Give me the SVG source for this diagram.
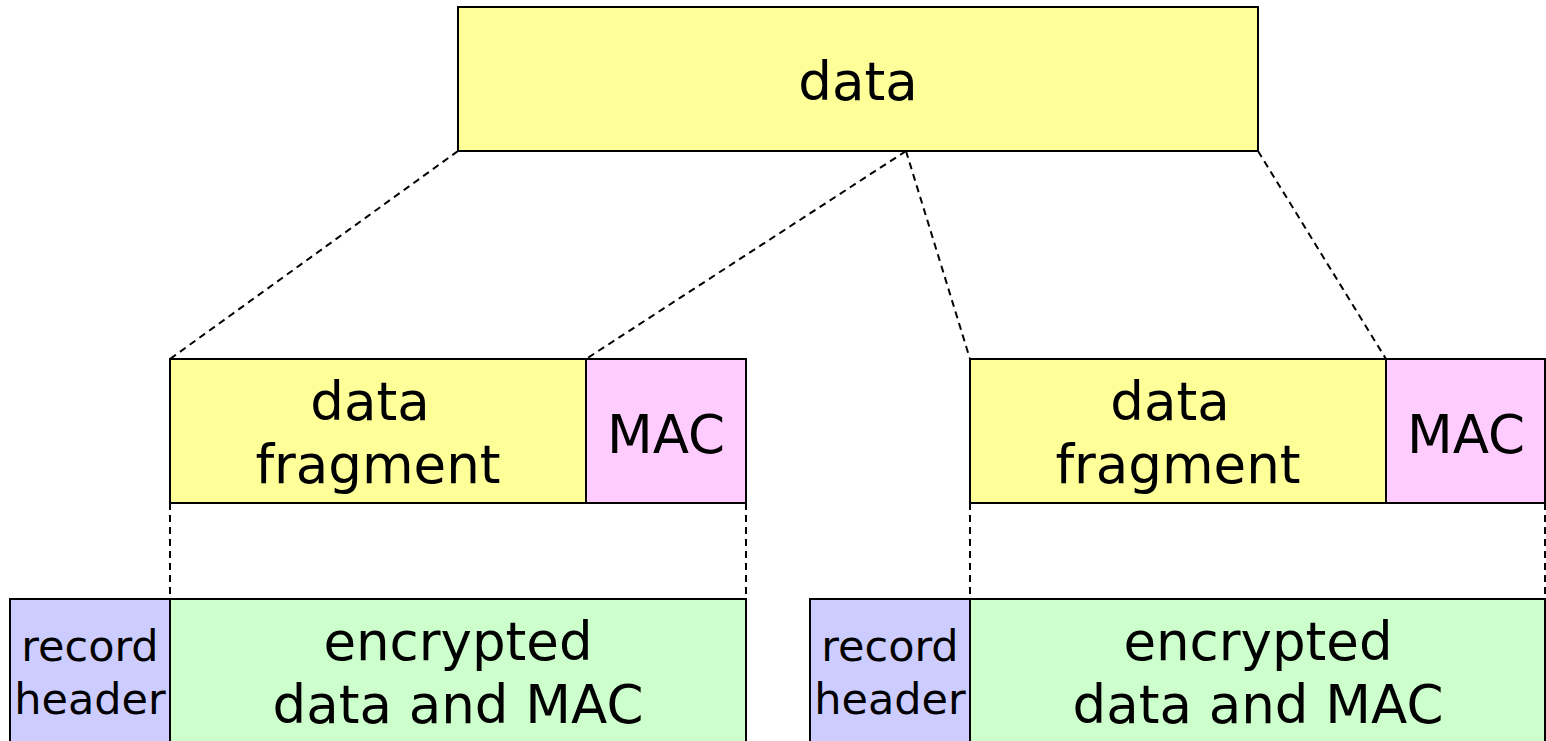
<svg xmlns="http://www.w3.org/2000/svg" width="1546" height="741" viewBox="0 0 1546 741">
<style>
.box{stroke:#000;stroke-width:2}
.y{fill:#ffff99}
.p{fill:#ffccff}
.b{fill:#ccccff}
.g{fill:#ccffcc}
.t{font-family:"DejaVu Sans","Liberation Sans",sans-serif;font-size:53px;fill:#000;text-anchor:middle}
.s{font-size:43px}
.d{stroke:#000;stroke-width:2;stroke-dasharray:7,5;fill:none}
</style>
<rect width="1546" height="741" fill="#fff"/>
<g id="connectors">
<line class="d" x1="458" y1="151" x2="170" y2="359"/>
<line class="d" x1="906" y1="151" x2="586" y2="359"/>
<line class="d" x1="906" y1="151" x2="970" y2="359"/>
<line class="d" x1="1258" y1="151" x2="1386" y2="359"/>
<line class="d" x1="170" y1="503" x2="170" y2="599"/>
<line class="d" x1="746" y1="503" x2="746" y2="599"/>
<line class="d" x1="970" y1="503" x2="970" y2="599"/>
<line class="d" x1="1545" y1="503" x2="1545" y2="599"/>
</g>
<g id="data">
<rect class="box y" x="458" y="7" width="800" height="144"/>
<text class="t" x="858" y="100">data</text>
</g>
<g id="frag1">
<rect class="box y" x="170" y="359" width="416" height="144"/>
<text class="t" x="370" y="420">data</text>
<text class="t" x="378" y="483">fragment</text>
</g>
<g id="mac1">
<rect class="box p" x="586" y="359" width="160" height="144"/>
<text class="t" x="666" y="453">MAC</text>
</g>
<g id="frag2">
<rect class="box y" x="970" y="359" width="416" height="144"/>
<text class="t" x="1170" y="420">data</text>
<text class="t" x="1178" y="483">fragment</text>
</g>
<g id="mac2">
<rect class="box p" x="1386" y="359" width="159" height="144"/>
<text class="t" x="1466" y="453">MAC</text>
</g>
<g id="hdr1">
<rect class="box b" x="10" y="599" width="160" height="150"/>
<text class="t s" x="90" y="661">record</text>
<text class="t s" x="90" y="714">header</text>
</g>
<g id="enc1">
<rect class="box g" x="170" y="599" width="576" height="150"/>
<text class="t" x="458" y="660">encrypted</text>
<text class="t" x="458" y="723">data and MAC</text>
</g>
<g id="hdr2">
<rect class="box b" x="810" y="599" width="160" height="150"/>
<text class="t s" x="890" y="661">record</text>
<text class="t s" x="890" y="714">header</text>
</g>
<g id="enc2">
<rect class="box g" x="970" y="599" width="575" height="150"/>
<text class="t" x="1258" y="660">encrypted</text>
<text class="t" x="1258" y="723">data and MAC</text>
</g>
</svg>
